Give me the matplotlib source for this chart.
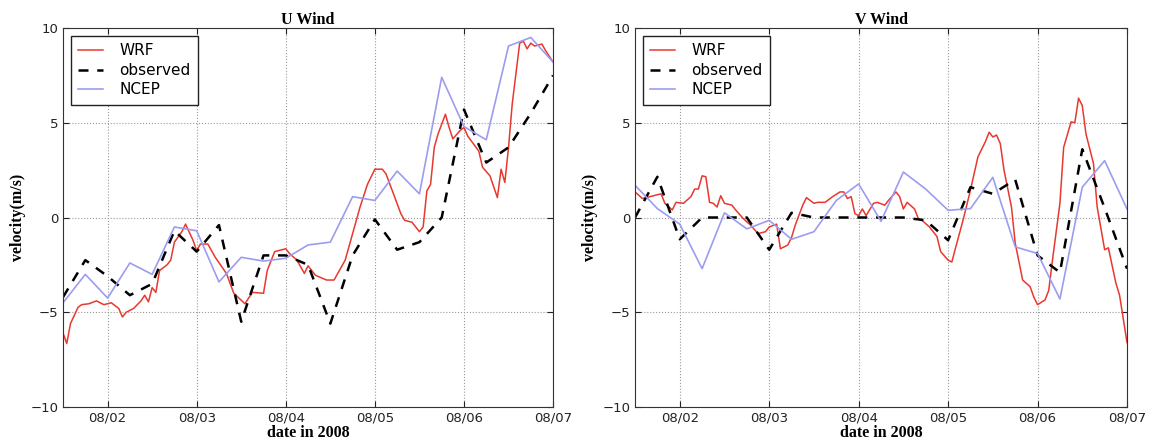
import numpy as np
import matplotlib
matplotlib.use("Agg")
import matplotlib.pyplot as plt
import matplotlib.dates as mdates

# time axis: hours after 2008-08-01 12:00
START = np.datetime64("2008-08-01T12:00")

# U component (m/s)
u_wrf_hours = [0, 1, 2, 4, 5, 7, 9, 11, 13, 15, 16, 17, 19, 21, 22, 23, 24, 25, 26, 28,
               29, 30, 32, 33, 35, 36, 37, 39, 41, 44, 46, 49, 51, 54, 55, 57, 60, 61, 63, 65,
               66, 68, 71, 73, 76, 78, 80, 82, 84, 86, 87, 89, 91, 92, 94, 96, 97, 98, 99, 100,
               101, 103, 104, 105, 107, 108, 109, 112, 113, 115, 117, 118, 119, 120, 121, 123,
               124, 125, 126, 127, 129, 130, 132]
u_wrf = [-6.1, -6.65, -5.6, -4.75, -4.6, -4.55, -4.4, -4.6, -4.5, -4.8, -5.25, -5.0, -4.8,
         -4.4, -4.1, -4.45, -3.7, -3.95, -2.8, -2.5, -2.25, -1.3, -0.75, -0.35, -1.2, -1.75,
         -1.4, -1.4, -2.1, -2.95, -4.0, -4.55, -3.95, -4.0, -2.8, -1.8, -1.65, -1.9, -2.25,
         -2.95, -2.55, -3.05, -3.3, -3.3, -2.25, -0.85, 0.55, 1.75, 2.55, 2.55, 2.3, 1.25,
         0.2, -0.15, -0.25, -0.75, -0.5, 1.4, 1.75, 3.7, 4.4, 5.45, 4.75, 4.15, 4.6, 4.75,
         4.3, 3.5, 2.65, 2.2, 1.05, 2.55, 1.85, 3.7, 6.0, 9.2, 9.3, 8.9, 9.2, 9.05, 9.15,
         8.8, 8.2]

six_hourly = list(range(0, 133, 6))
u_obs = [-4.2, -2.25, -3.1, -4.1, -3.5, -0.7, -1.8, -0.4, -5.5, -2.0, -2.0, -2.5,
         -5.6, -2.0, -0.1, -1.7, -1.3, 0.0, 5.7, 2.9, 3.7, 5.5, 7.5]
u_ncep = [-4.5, -3.0, -4.25, -2.4, -3.0, -0.5, -0.7, -3.4, -2.1, -2.3, -2.15, -1.45,
          -1.3, 1.1, 0.9, 2.45, 1.25, 7.4, 4.8, 4.1, 9.05, 9.5, 8.2]

# V component (m/s)
v_wrf_hours = [0, 2, 5, 7, 8, 10, 11, 13, 15, 16, 17, 18, 19, 20, 21, 22, 23, 24, 26, 27,
               29, 31, 33, 35, 36, 38, 39, 41, 42, 43, 45, 46, 48, 49, 51, 53, 55, 56, 57, 58,
               59, 60, 61, 62, 64, 65, 67, 68, 70, 71, 72, 73, 75, 76, 77, 79, 81, 82, 84, 85,
               86, 88, 90, 92, 94, 95, 96, 97, 98, 99, 101, 102, 104, 106, 107, 108, 110, 111,
               112, 114, 115, 117, 118, 119, 120, 121, 123, 124, 126, 127, 129, 130, 132]
v_wrf = [1.35, 1.0, 1.15, 1.25, 0.75, 0.4, 0.8, 0.75, 1.1, 1.5, 1.5, 2.2, 2.15, 0.8, 0.75,
         0.55, 1.15, 0.75, 0.65, 0.4, -0.05, -0.4, -0.85, -0.75, -0.5, -0.35, -1.65, -1.45,
         -1.05, -0.4, 0.65, 1.05, 0.75, 0.8, 0.8, 1.1, 1.35, 1.35, 1.0, 1.1, 0.2, 0.1, 0.45,
         0.1, 0.75, 0.8, 0.65, 0.9, 1.35, 1.1, 0.45, 0.8, 0.45, -0.05, -0.15, -0.5, -1.0,
         -1.8, -2.25, -2.35, -1.6, -0.15, 1.45, 3.2, 4.0, 4.5, 4.25, 4.35, 3.9, 2.5, 0.55,
         -1.35, -3.3, -3.65, -4.2, -4.6, -4.35, -3.85, -2.25, 0.75, 3.7, 5.05, 5.0, 6.3, 5.9,
         4.4, 2.85, 0.55, -1.7, -1.6, -3.45, -4.1, -6.6]
v_obs = [0.0, 2.15, -1.15, 0.0, 0.0, 0.0, -1.7, 0.25, 0.0, 0.0, 0.0, 0.0,
         0.0, -0.15, -1.2, 1.6, 1.25, 2.0, -2.0, -2.9, 3.6, 0.5, -2.7]
v_ncep = [1.7, 0.47, -0.35, -2.7, 0.25, -0.6, -0.15, -1.15, -0.75, 0.9, 1.77, -0.2,
          2.4, 1.5, 0.38, 0.47, 2.12, -1.55, -1.9, -4.3, 1.6, 3.0, 0.45]


def to_dates(hours):
    return START + np.array(hours, dtype="timedelta64[h]")


SERIF = ["Liberation Serif", "DejaVu Serif"]

plt.rcParams.update({
    "font.family": "DejaVu Sans",
    "xtick.direction": "in",
    "ytick.direction": "in",
    "xtick.top": True,
    "ytick.right": True,
    "xtick.major.size": 4,
    "ytick.major.size": 4,
    "axes.edgecolor": "#333333",
})

fig = plt.figure(figsize=(11.59, 4.48), dpi=100)
ax_u = fig.add_axes([0.0544, 0.0915, 0.4228, 0.846])
ax_v = fig.add_axes([0.5479, 0.0915, 0.4245, 0.846])

panels = [
    (ax_u, "U Wind", u_wrf_hours, u_wrf, u_obs, u_ncep),
    (ax_v, "V Wind", v_wrf_hours, v_wrf, v_obs, v_ncep),
]

for ax, title, wrf_h, wrf, obs, ncep in panels:
    ax.plot(to_dates(wrf_h), wrf, color="#e8382f", lw=1.1, label="WRF")
    ax.plot(to_dates(six_hourly), obs, color="black", ls="--", lw=1.8,
            dashes=(4, 3.5), label="observed")
    ax.plot(to_dates(six_hourly), ncep, color="#9c9cf0", lw=1.2, label="NCEP")

    ax.set_xlim(START, START + np.timedelta64(132, "h"))
    ax.set_ylim(-10, 10)
    ax.set_yticks([-10, -5, 0, 5, 10])
    ax.xaxis.set_major_locator(mdates.DayLocator())
    ax.xaxis.set_major_formatter(mdates.DateFormatter("%m/%d"))
    ax.tick_params(labelsize=9.5, colors="#222222")
    ax.grid(True, ls=":", color="#999999", lw=0.8)

    ax.set_title(title, family=SERIF, fontweight="bold", fontsize=11.5, pad=3)
    ax.set_xlabel("date in 2008", family=SERIF, fontweight="bold", fontsize=11.5, labelpad=0)
    ax.set_ylabel("velocity(m/s)", family=SERIF, fontweight="bold", fontsize=11.5, labelpad=3)

    leg = ax.legend(loc="upper left", fontsize=11, fancybox=False, framealpha=1,
                    edgecolor="#222222", handlelength=1.6, handletextpad=1.1,
                    borderpad=0.5, borderaxespad=0.5, labelspacing=0.3)
    leg.get_frame().set_linewidth(1.0)

fig.savefig("out.png", dpi=100, facecolor="white")
